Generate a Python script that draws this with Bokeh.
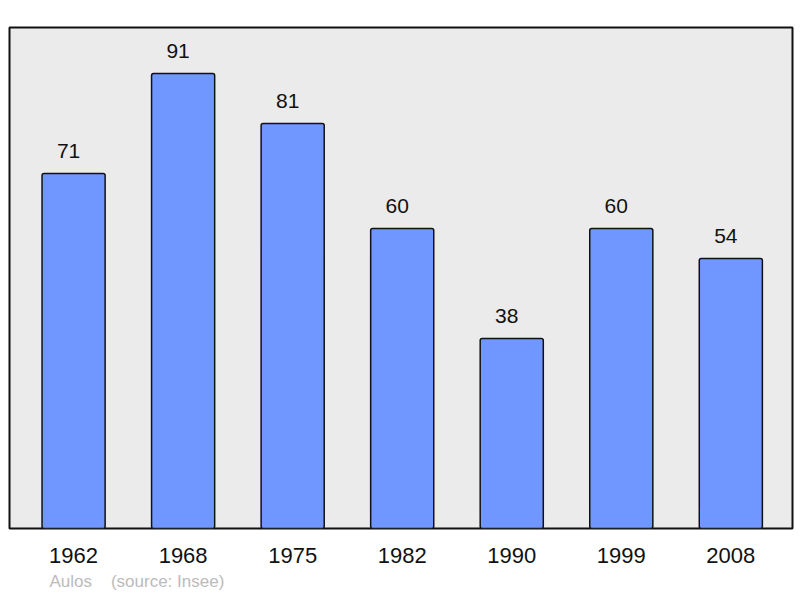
from bokeh.plotting import figure
from bokeh.models import Range1d, FixedTicker, Title, ColumnDataSource
from bokeh.core.properties import value
from bokeh.embed import file_html
from bokeh.resources import INLINE

years = ["1962", "1968", "1975", "1982", "1990", "1999", "2008"]
population = [71, 91, 81, 60, 38, 60, 54]
town = "Aulos"
source_note = "(source: Insee)"

xs = list(range(len(years)))
src = ColumnDataSource(dict(x=xs, top=population, label=[str(v) for v in population]))

p = figure(width=800, height=598, output_backend="svg", toolbar_location=None,
           x_range=Range1d(-0.585, 6.563), y_range=Range1d(0, 100.2),
           y_axis_location=None, min_border_left=9, min_border_right=8,
           min_border_top=27, min_border_bottom=70)
p.border_fill_color = "white"
p.background_fill_color = "#ebebeb"
p.outline_line_color = "#111111"
p.outline_line_width = 2
p.grid.visible = False

p.vbar(x="x", top="top", bottom=0, width=0.576, source=src,
       fill_color="#7097ff", line_color="#111111", line_width=1.5, border_radius=2)

p.text(x="x", y="top", text="label", source=src, text_align="center",
       text_baseline="alphabetic", x_offset=-5, y_offset=-23,
       text_font=value("Liberation Sans"), text_font_size="21px", text_color="#111111")

ax = p.xaxis[0]
ax.ticker = FixedTicker(ticks=xs)
ax.major_label_overrides = {i: y for i, y in enumerate(years)}
ax.axis_line_color = None
ax.major_tick_line_color = None
ax.minor_tick_line_color = None
ax.major_tick_in = 0
ax.major_tick_out = 0
ax.major_label_standoff = 19
ax.major_label_text_font = "Liberation Sans"
ax.major_label_text_font_size = "22px"
ax.major_label_text_color = "#111111"

note = town + "\u00a0" * 4 + source_note
p.add_layout(Title(text=note, align="left", offset=40, standoff=9,
                   text_font="Liberation Sans", text_font_size="17px",
                   text_font_style="normal", text_color="#bbbbbb"), "below")

open("out.html", "w").write(file_html(p, INLINE))
